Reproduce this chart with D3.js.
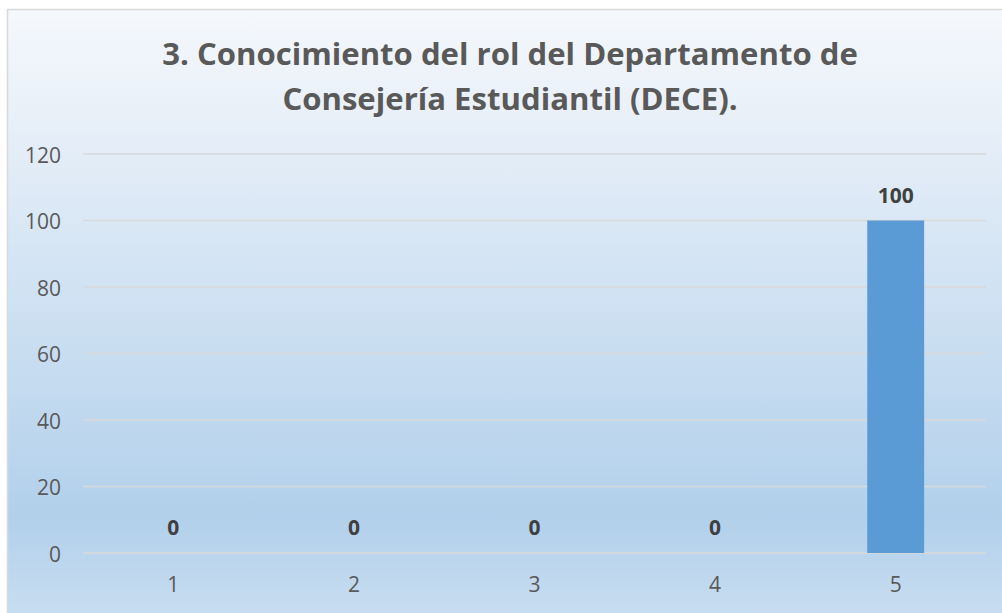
<!DOCTYPE html>
<html><head><meta charset="utf-8">
<script src="https://cdn.jsdelivr.net/npm/d3@7"></script>
<style>body{margin:0;background:#fff}svg{display:block}</style>
</head><body><svg id="c" width="1002" height="613"></svg>
<script>
const categories = ["1","2","3","4","5"];
const values = [0,0,0,0,100];
const yTicks = [0,20,40,60,80,100,120];
const titleLines = ["3. Conocimiento del rol del Departamento de","Consejería Estudiantil (DECE)."];

const svg = d3.select("#c");
const defs = svg.append("defs");
const g = defs.append("linearGradient").attr("id","bg").attr("x1",0).attr("y1",0).attr("x2",0).attr("y2",1);
[[0,"#f5f8fc"],[0.15,"#eaf1f9"],[0.82,"#b2d0eb"],[1,"#cbdff1"]].forEach(s=>g.append("stop").attr("offset",s[0]).attr("stop-color",s[1]));

svg.append("rect").attr("x",7.5).attr("y",9.5).attr("width",1002).attr("height",620)
  .attr("fill","url(#bg)").attr("stroke","#d9d9d9").attr("stroke-width",1.5);

const x = d3.scaleBand().domain(categories).range([83,986]).paddingInner(0.685).paddingOuter(0.3425);
const y = d3.scaleLinear().domain([0,120]).range([553,154]);

const grid = svg.append("g");
grid.selectAll("line").data(yTicks).join("line")
  .attr("x1",83).attr("x2",986).attr("y1",d=>y(d)).attr("y2",d=>y(d))
  .attr("stroke","#d9d9d9").attr("stroke-width",1.5);

const yAxis = svg.append("g").attr("transform","translate(61,0)")
  .call(d3.axisLeft(y).tickValues(yTicks).tickSize(0).tickPadding(0));
yAxis.select(".domain").remove();
yAxis.selectAll("text").attr("font-family","'Open Sans',sans-serif").attr("font-size",21).attr("fill","#595959").attr("dy",8);

const xAxis = svg.append("g").attr("transform","translate(0,553)")
  .call(d3.axisBottom(x).tickSize(0).tickPadding(0));
xAxis.select(".domain").remove();
xAxis.selectAll("text").attr("font-family","'Open Sans',sans-serif").attr("font-size",21).attr("fill","#595959").attr("y",39).attr("dy",0);

svg.append("g").selectAll("rect").data(values).join("rect")
  .attr("x",(d,i)=>x(categories[i])).attr("width",x.bandwidth())
  .attr("y",d=>y(d)).attr("height",d=>y(0)-y(d)).attr("fill","#5b9bd5");

svg.append("g").selectAll("text").data(values).join("text")
  .attr("x",(d,i)=>x(categories[i])+x.bandwidth()/2).attr("y",d=>y(d)-18)
  .attr("text-anchor","middle").attr("font-family","'Open Sans',sans-serif").attr("font-weight","bold")
  .attr("font-size",21).attr("fill","#404040").text(d=>d);

const tg = svg.append("g");
const t = tg.selectAll("text").data(titleLines).join("text")
  .attr("x",0).attr("y",(d,i)=>65+i*45).attr("text-anchor","middle")
  .attr("font-family","'Open Sans',sans-serif").attr("font-weight","bold").attr("font-size",31)
  .attr("fill","#595959").text(d=>d);
const w0 = t.nodes()[0].getComputedTextLength();
tg.attr("transform",`translate(510,0) scale(${696/w0},1)`);
</script></body></html>
